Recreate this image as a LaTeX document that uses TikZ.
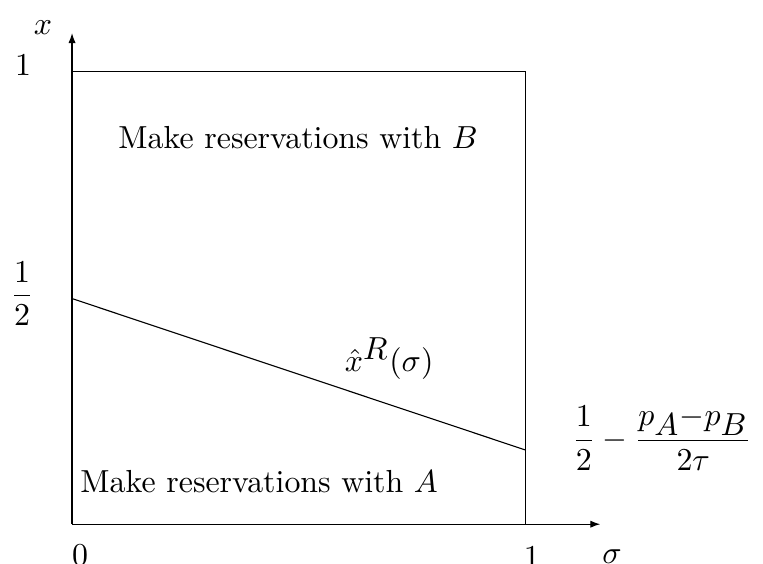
\documentclass[tikz,border=0pt]{standalone}
\usepackage{amsmath, amssymb}
\usepackage{tikz}
\usetikzlibrary{arrows.meta}

\begin{document}
\begin{tikzpicture}[
    x=162pt, y=162pt,
    axis/.style={-{Latex[length=3.6pt,width=2.6pt]}, line width=0.4pt},
    frame/.style={line width=0.4pt},
    curve/.style={line width=0.4pt},
    lbl/.style={inner sep=0pt, anchor=center, scale=1.14}
  ]
  \useasboundingbox (-0.159,-0.0863) rectangle (1.525,1.157);

  \coordinate (O) at (0,0);
  \coordinate (xtip) at (1.166,0);
  \coordinate (ytip) at (0,1.084);
  \coordinate (tl) at (0,1);
  \coordinate (tr) at (1,1);
  \coordinate (br) at (1,0);
  \coordinate (c0) at (0,0.498);
  \coordinate (c1) at (1,0.164);

  % axes and box
  \draw[axis] (O) -- (xtip);
  \draw[axis] (O) -- (ytip);
  \draw[frame] (tl) -- (tr) -- (br);
  \draw[curve] (c0) -- (c1);

  % tick labels
  \node[lbl] (xlab) at (-0.064,1.095) {$x$};
  \node[lbl] (one) at (-0.108,1.013) {$1$};
  \node[lbl] (half) at (-0.110,0.509) {$\dfrac{1}{2}$};
  \node[lbl] (zero) at (0.018,-0.068) {$0$};
  \node[lbl] (onex) at (1.015,-0.073) {$1$};
  \node[lbl] (sig) at (1.192,-0.071) {$\sigma$};

  % regions
  \node[lbl] (regB) at (0.499,0.854) {Make reservations with $B$};
  \node[lbl] (regA) at (0.413,0.095) {Make reservations with $A$};
  \node[lbl] (xhat) at (0.700,0.365) {$\hat{x}^{\textstyle R}(\sigma)$};
  \node[lbl] (endv) at (1.302,0.190)
    {$\dfrac{1}{2}-\dfrac{p_{\textstyle A}{-}p_{\textstyle B}}{2\tau}$};
\end{tikzpicture}
\end{document}
